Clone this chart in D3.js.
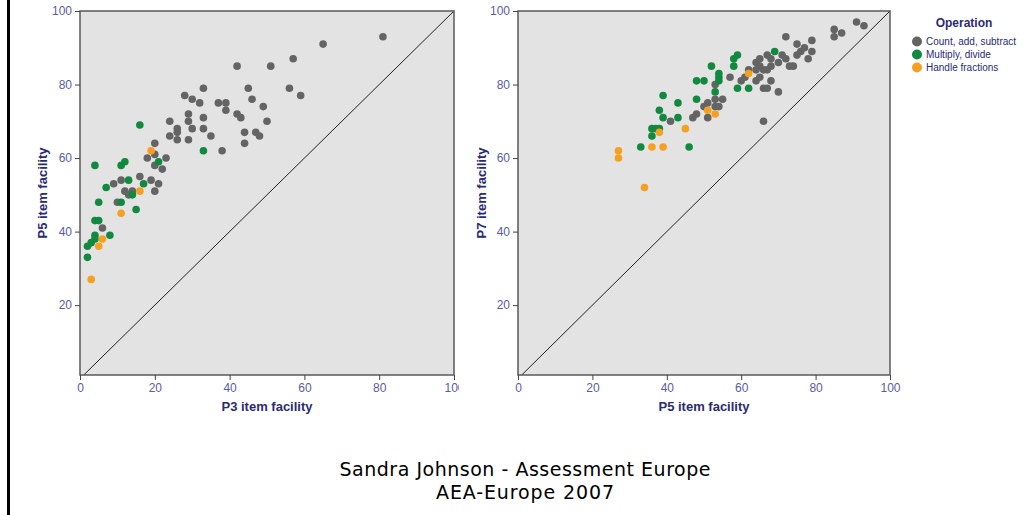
<!DOCTYPE html>
<html>
<head>
<meta charset="utf-8">
<script src="https://cdn.jsdelivr.net/npm/d3@7"></script>
<style>
  body { margin: 0; background: #fff; }
  svg { display: block; }
</style>
</head>
<body>
<svg id="chart" width="1033" height="515"></svg>
<script>
// categories and colours for the legend
const categories = ["Count, add, subtract", "Multiply, divide", "Handle fractions"];
const colours = ["#646464", "#11893f", "#f7a020"];
const xTicks = [0, 20, 40, 60, 80, 100];
const yTicks = [20, 40, 60, 80, 100];

// P3 vs P5 item facility, [x, y]
const p3p5Count = [[81,93],[65,91],[57,87],[42,85],[51,85],[33,79],[45,79],[56,79],[59,77],[28,77],[30,76],[32,75],[37,75],[39,75],[46,76],[49,74],[39,73],[29,72],[42,72],[43,71],[33,71],[29,70],[24,70],[50,70],[26,68],[30,68],[33,68],[26,67],[44,67],[47,67],[24,66],[35,66],[48,66],[26,65],[29,65],[44,64],[20,64],[38,62],[18,60],[23,60],[20,61],[20,58],[22,57],[9,53],[11,54],[16,55],[19,54],[21,53],[20,51],[12,51],[14,51],[13,50],[10,48],[6,41]];
const p3p5Mult = [[16,69],[33,62],[4,58],[11,58],[12,59],[21,59],[7,52],[13,54],[17,53],[14,50],[5,48],[11,48],[15,46],[4,43],[5,43],[4,39],[8,39],[4,38],[3,37],[2,36],[2,33]];
const p3p5Frac = [[19,62],[16,51],[11,45],[6,38],[5,36],[3,27]];

// P5 vs P7 item facility, [x, y]
const p5p7Count = [[91,97],[93,96],[85,95],[85,93],[87,94],[72,93],[75,91],[77,90],[79,92],[75,88],[76,89],[79,89],[78,87],[71,88],[72,87],[70,86],[73,85],[74,85],[67,88],[68,87],[65,87],[64,86],[68,85],[67,84],[66,84],[65,85],[64,84],[65,82],[62,84],[60,81],[61,82],[57,82],[64,81],[68,81],[66,79],[67,79],[70,78],[66,70],[53,80],[53,76],[55,76],[51,75],[50,74],[53,74],[54,74],[51,71],[48,72],[47,71],[41,70]];
const p5p7Mult = [[69,89],[59,88],[58,87],[58,85],[52,85],[54,83],[54,82],[54,81],[53,78],[48,81],[50,81],[59,79],[62,79],[39,77],[48,76],[43,75],[38,73],[39,71],[43,71],[36,68],[37,68],[38,68],[36,66],[33,63],[46,63]];
const p5p7Frac = [[62,83],[51,73],[53,72],[45,68],[38,67],[36,63],[39,63],[27,62],[27,60],[34,52]];

const panels = [
  { left: 80, right: 454, clipAt: 459, titleX: 47, xTitle: "P3 item facility", yTitle: "P5 item facility", series: [p3p5Count, p3p5Mult, p3p5Frac] },
  { left: 518, right: 890, clipAt: 1033, titleX: 486, xTitle: "P5 item facility", yTitle: "P7 item facility", series: [p5p7Count, p5p7Mult, p5p7Frac] }
];

const plotTop = 11, plotBottom = 375;
const svg = d3.select("#chart");
const font = "'Liberation Sans', Arial, sans-serif";

// slide border on the left
svg.append("rect").attr("x", 7).attr("y", 0).attr("width", 3).attr("height", 515).attr("fill", "#000");

panels.forEach((p, i) => {
  const x = d3.scaleLinear().domain([0, 100]).range([p.left, p.right]);
  const y = d3.scaleLinear().domain([1, 100]).range([plotBottom, plotTop]);

  svg.append("clipPath").attr("id", "clip" + i)
    .append("rect").attr("x", 0).attr("y", 0).attr("width", p.clipAt).attr("height", 515);
  const g = svg.append("g").attr("clip-path", `url(#clip${i})`);

  g.append("rect")
    .attr("x", p.left).attr("y", plotTop)
    .attr("width", p.right - p.left).attr("height", plotBottom - plotTop)
    .attr("fill", "#e3e3e3");

  // reference line y = x
  g.append("line")
    .attr("x1", x(1)).attr("y1", y(1))
    .attr("x2", x(100)).attr("y2", y(100))
    .attr("stroke", "#222").attr("stroke-width", 1);

  p.series.forEach((pts, k) => {
    g.selectAll(".pt" + k)
      .data(pts)
      .join("circle")
      .attr("class", "pt" + k)
      .attr("cx", d => x(d[0]))
      .attr("cy", d => y(d[1]))
      .attr("r", 3.8)
      .attr("fill", colours[k]);
  });

  g.append("rect")
    .attr("x", p.left).attr("y", plotTop)
    .attr("width", p.right - p.left).attr("height", plotBottom - plotTop)
    .attr("fill", "none").attr("stroke", "#5a5a5a").attr("stroke-width", 1.5);

  const xAxis = g.append("g").attr("transform", `translate(0,${plotBottom})`)
    .call(d3.axisBottom(x).tickValues(xTicks).tickSize(5).tickPadding(3).tickSizeOuter(0));
  const yAxis = g.append("g").attr("transform", `translate(${p.left},0)`)
    .call(d3.axisLeft(y).tickValues(yTicks).tickSize(5).tickPadding(3).tickSizeOuter(0));
  [xAxis, yAxis].forEach(a => {
    a.select(".domain").remove();
    a.selectAll("line").attr("stroke", "#444");
    a.selectAll("text").attr("fill", "#5b5ba6").style("font-family", font).style("font-size", "12px");
  });

  g.append("text")
    .attr("x", (p.left + p.right) / 2).attr("y", 411)
    .attr("text-anchor", "middle")
    .style("font-family", font).style("font-size", "13px").style("font-weight", "bold")
    .attr("fill", "#2a2a78")
    .text(p.xTitle);

  g.append("text")
    .attr("transform", `translate(${p.titleX},${(plotTop + plotBottom) / 2}) rotate(-90)`)
    .attr("text-anchor", "middle")
    .style("font-family", font).style("font-size", "13px").style("font-weight", "bold")
    .attr("fill", "#2a2a78")
    .text(p.yTitle);
});

// legend
const legend = svg.append("g").attr("transform", "translate(917,0)");
legend.append("text")
  .attr("x", 47).attr("y", 27).attr("text-anchor", "middle")
  .style("font-family", font).style("font-size", "12px").style("font-weight", "bold")
  .attr("fill", "#2a2a78").text("Operation");
legend.selectAll(".item")
  .data(categories)
  .join("g")
  .attr("class", "item")
  .attr("transform", (d, k) => `translate(0,${41.5 + k * 13})`)
  .each(function(d, k) {
    const it = d3.select(this);
    it.append("circle").attr("r", 5).attr("fill", colours[k]);
    it.append("text").attr("x", 9).attr("y", 3.5)
      .style("font-family", font).style("font-size", "10px")
      .attr("fill", "#2a2a78").text(d);
  });

// footer
const footer = ["Sandra Johnson - Assessment Europe", "AEA-Europe 2007"];
svg.selectAll(".footer")
  .data(footer)
  .join("text")
  .attr("class", "footer")
  .attr("x", 525).attr("y", (d, k) => 476 + k * 23)
  .attr("text-anchor", "middle")
  .attr("textLength", (d, k) => k === 0 ? 371 : 178)
  .style("font-family", "'Comic Sans MS', 'DejaVu Sans', sans-serif")
  .style("font-size", "19px")
  .attr("fill", "#000")
  .text(d => d);
</script>
</body>
</html>
